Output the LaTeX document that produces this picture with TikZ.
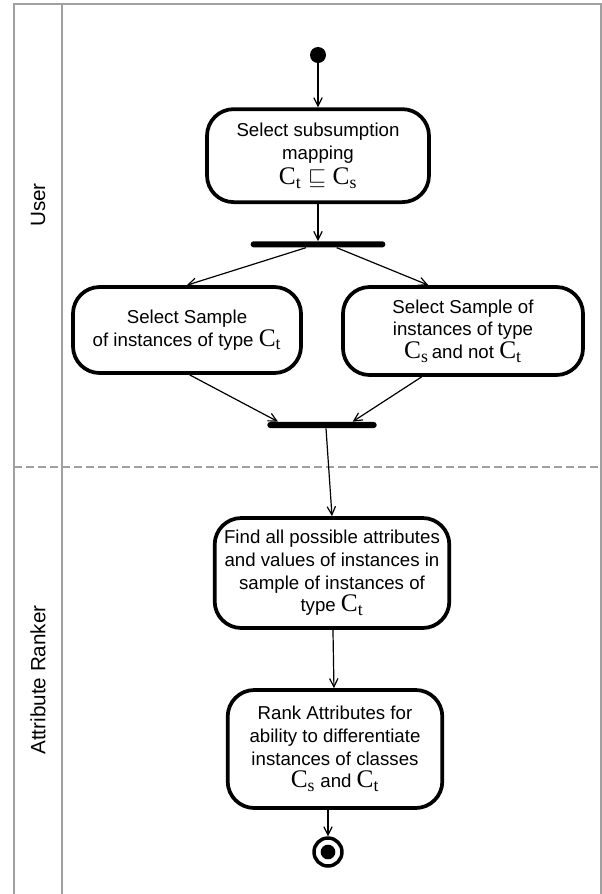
\documentclass[tikz,border=0pt]{standalone}
\usepackage{fontspec}
\setmainfont{Liberation Sans}
\newfontfamily\tnr{Liberation Serif}
\usetikzlibrary{arrows.meta,positioning}
\definecolor{LaneGray}{RGB}{160,160,160}
\newcommand{\cls}[1]{{\tnr\fontsize{19}{19}\selectfont C\textsubscript{#1}}}

\begin{document}
\begin{tikzpicture}[
  x=0.75pt, y=-0.75pt,
  act/.style={draw, line width=2.8pt, rounded corners=20pt, align=center, inner sep=2pt,
    font=\fontsize{14}{17}\selectfont},
  bar/.style={fill=black, rounded corners=2.2pt, minimum height=4.6pt, inner sep=0pt},
  line/.style={-{Straight Barb[length=2.2mm,width=2.2mm]}, line width=0.9pt},
  lane/.style={draw=LaneGray, line width=1.2pt},
  lanelabel/.style={rotate=90, font=\fontsize{15.5}{18}\selectfont}
]
\useasboundingbox (0,0) rectangle (602,894);

% swimlanes
\draw[lane] (14,894) -- (14,4) -- (601,4) -- (601,894);
\draw[lane] (62,4) -- (62,894);
\draw[lane, dashed, dash pattern=on 6pt off 3pt] (14,467) -- (601,467);
\node[lanelabel] (user) at (38,205) {User};
\node[lanelabel] (ranker) at (38,680) {Attribute Ranker};

% activities
\node[circle, fill=black, minimum size=12pt, inner sep=0pt] (start) at (318,55) {};
\node[act, minimum width=166.5pt, minimum height=69.75pt, below=33pt of start] (select)
  {Select subsumption\\mapping\\[2pt]{\fontsize{18}{18}\selectfont\cls{t} $\sqsubseteq$ \cls{s}}};
\node[bar, minimum width=101pt, below=27.75pt of select] (fork) {};
\node[act, minimum width=171pt, minimum height=64.5pt] (sampleT) at (187,330)
  {Select Sample\\of instances of type \cls{t}};
\node[act, minimum width=180pt, minimum height=66pt] (sampleS) at (463,331)
  {Select Sample of\\instances of type\\\cls{s}\,and not \cls{t}};
\node[bar, minimum width=82pt] (join) at (322,425) {};
\node[act, minimum width=176pt, minimum height=82.5pt] (find) at (332,573)
  {Find all possible attributes\\and values of instances in\\sample of instances of\\type \cls{t}};
\node[act, minimum width=161pt, minimum height=88.5pt] (rank) at (335,749)
  {Rank Attributes for\\ability to differentiate\\instances of classes\\\cls{s} and \cls{t}};
\node[circle, draw, line width=2.6pt, minimum size=21pt, inner sep=0pt] (stop) at (328,852) {};
\node[circle, fill=black, minimum size=11pt, inner sep=0pt] at (stop) {};

% flow
\draw[line] (start) -- (select);
\draw[line] (select) -- (fork);
\draw[line] ([xshift=-9pt]fork.south) -- (sampleT.north);
\draw[line] ([xshift=14pt]fork.south) -- ([xshift=-26pt]sampleS.north);
\draw[line] ([xshift=2pt]sampleT.south) -- ([xshift=-33pt]join.north);
\draw[line] ([xshift=-31pt]sampleS.south) -- ([xshift=23pt]join.north);
\draw[line] ([xshift=3pt]join.south) -- (find.north);
\draw[line] (find) -- (rank);
\draw[line] (rank.south -| stop) -- (stop);
\end{tikzpicture}
\end{document}
